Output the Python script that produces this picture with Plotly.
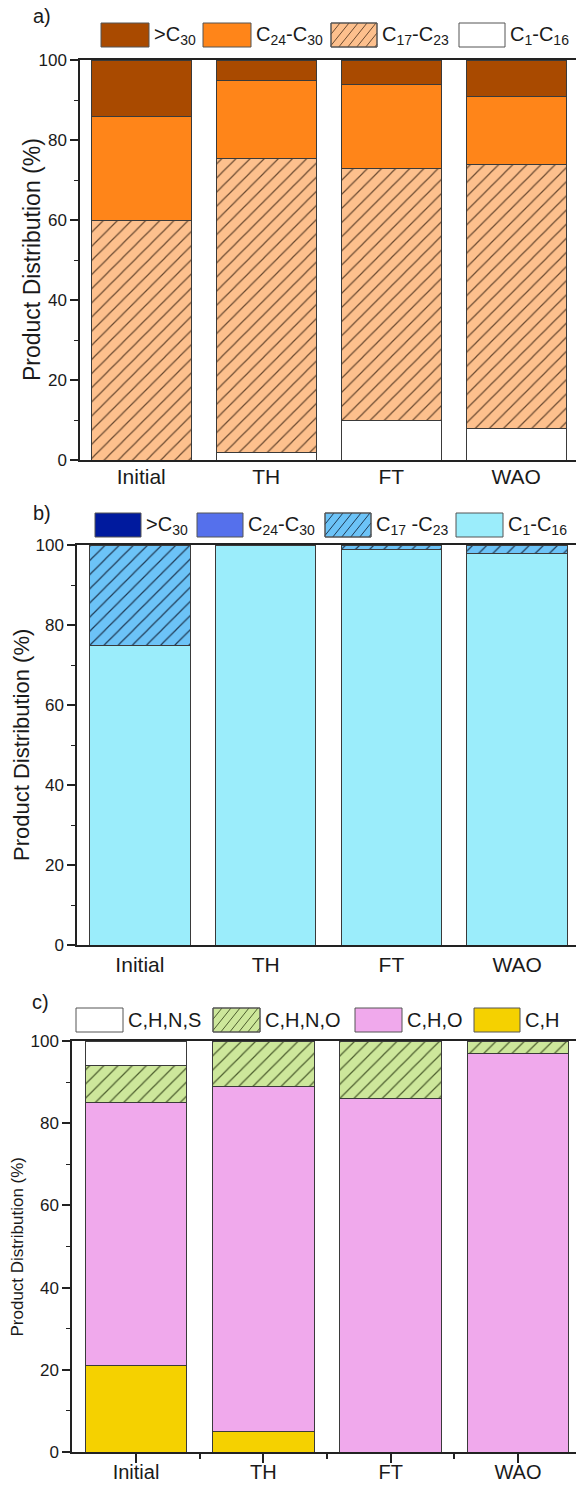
import plotly.graph_objects as go

W, H = 576, 1485
FONT = "Liberation Sans, Arial, sans-serif"

categories = ["Initial", "TH", "FT", "WAO"]

# Panel a) values (%), stacked bottom -> top
a_c1_c16 = [0, 2, 10, 8]
a_c17_c23 = [60, 73.3, 63, 66]
a_c24_c30 = [26, 19.7, 21, 17]
a_gt_c30 = [14, 5, 6, 9]

# Panel b) values (%)
b_c1_c16 = [75, 100, 99, 98]
b_c17_c23 = [25, 0, 1, 2]
b_c24_c30 = [0, 0, 0, 0]
b_gt_c30 = [0, 0, 0, 0]

# Panel c) values (%)
c_ch = [21, 5, 0, 0]
c_cho = [64, 84, 86, 97]
c_chno = [9, 11, 14, 3]
c_chns = [6, 0, 0, 0]

a_names = [">C<sub>30</sub>", "C<sub>24</sub>-C<sub>30</sub>", "C<sub>17</sub>-C<sub>23</sub>", "C<sub>1</sub>-C<sub>16</sub>"]
b_names = [">C<sub>30</sub>", "C<sub>24</sub>-C<sub>30</sub>", "C<sub>17</sub> -C<sub>23</sub>", "C<sub>1</sub>-C<sub>16</sub>"]
c_names = ["C,H,N,S", "C,H,N,O", "C,H,O", "C,H"]
y_title = "Product Distribution (%)"
panel_tags = ["a)", "b)", "c)"]

# ---- styles ----
OUT = "#3a3a3a"
a_style = [  # same order as a_names (legend order)
    dict(color="#A94A00"), dict(color="#FF8519"),
    dict(color="#FDC08D", hatch="#6b4a30"), dict(color="#FFFFFF")]
b_style = [
    dict(color="#001A9E"), dict(color="#5570EC"),
    dict(color="#6CC3F7", hatch="#1f3a55"), dict(color="#9BEDFB")]
c_style = [
    dict(color="#FFFFFF"), dict(color="#CDE79B", hatch="#4d5e2e"),
    dict(color="#F0A9EC"), dict(color="#F5D100")]

# panel geometry (pixels)
panels = [
    dict(left=80, top=60, bottom=460, xr=[-0.49, 3.478], tick_sz=17, xt_sz=21, title_x=32, title_sz=23,
         xticks=False, standoff=-3, tag=(42, 16), leg_y=(23, 47),
         leg_boxes=[(101, 149), (203, 251), (331, 377), (459, 505)]),
    dict(left=77, top=545, bottom=945, xr=[-0.5, 3.468], tick_sz=17, xt_sz=21, title_x=21, title_sz=22,
         xticks=False, standoff=0, tag=(42, 513), leg_y=(513, 537),
         leg_boxes=[(95, 141), (197, 243), (325, 371), (456, 503)]),
    dict(left=72, top=1041, bottom=1452, xr=[-0.503, 3.456], tick_sz=17, xt_sz=20, title_x=17, title_sz=17,
         xticks=True, standoff=-8, tag=(40, 1002), leg_y=(1008, 1032),
         leg_boxes=[(76, 123), (213, 260), (355, 402), (474, 520)]),
]

def px(x):
    return x / W

def py(y):
    return 1 - y / H

xpos = list(range(len(categories)))

fig = go.Figure()

def add_bar(vals, name, style, idx):
    marker = dict(color=style["color"], line=dict(color=OUT, width=1))
    if "hatch" in style:
        marker["pattern"] = dict(shape="/", fgcolor=style["hatch"], bgcolor=style["color"],
                                 size=10, solidity=0.12, fillmode="replace")
    sfx = "" if idx == 1 else str(idx)
    fig.add_trace(go.Bar(x=xpos, y=vals, name=name, marker=marker, width=0.8,
                         xaxis="x" + sfx, yaxis="y" + sfx, showlegend=False))

# stacked bottom -> top
add_bar(a_c1_c16, a_names[3], a_style[3], 1)
add_bar(a_c17_c23, a_names[2], a_style[2], 1)
add_bar(a_c24_c30, a_names[1], a_style[1], 1)
add_bar(a_gt_c30, a_names[0], a_style[0], 1)

add_bar(b_c1_c16, b_names[3], b_style[3], 2)
add_bar(b_c17_c23, b_names[2], b_style[2], 2)
add_bar(b_c24_c30, b_names[1], b_style[1], 2)
add_bar(b_gt_c30, b_names[0], b_style[0], 2)

add_bar(c_ch, c_names[3], c_style[3], 3)
add_bar(c_cho, c_names[2], c_style[2], 3)
add_bar(c_chno, c_names[1], c_style[1], 3)
add_bar(c_chns, c_names[0], c_style[0], 3)

layout = dict(width=W, height=H, margin=dict(l=0, r=0, t=0, b=0, pad=0), autosize=False,
              barmode="stack", paper_bgcolor="white", plot_bgcolor="white",
              font=dict(family=FONT, color="#1a1a1a"), bargap=0.2, showlegend=False)

shapes = []
annotations = []

def hatch_paths(x0, x1, yt, yb, step=9, slope=1.25):
    segs = []
    k = x0 - (yb - yt) / slope
    while k < x1:
        t_lo = max(x0 - k, 0)
        t_hi = min(x1 - k, (yb - yt) / slope)
        if t_hi > t_lo:
            xa, ya = k + t_lo, yb - t_lo * slope
            xb, yb2 = k + t_hi, yb - t_hi * slope
            segs.append(f"M{px(xa):.5f},{py(ya):.5f} L{px(xb):.5f},{py(yb2):.5f}")
        k += step
    return " ".join(segs)

styles = [a_style, b_style, c_style]
names = [a_names, b_names, c_names]

for i, p in enumerate(panels):
    sfx = "" if i == 0 else str(i + 1)
    ydom = [py(p["bottom"]), py(p["top"])]
    xdom = [px(p["left"]), 1.0]
    xa = dict(domain=xdom, range=p["xr"], anchor="y" + sfx, tickmode="array", tickvals=xpos,
              ticktext=categories, showline=True, linecolor="#222", linewidth=1.5, mirror=True,
              showgrid=False, zeroline=False, automargin=False, ticklabelstandoff=p["standoff"],
              tickfont=dict(size=p["xt_sz"], family=FONT, color="#1a1a1a"))
    if p["xticks"]:
        xa.update(ticks="outside", ticklen=9, tickwidth=1.5, tickcolor="#222",
                  minor=dict(tickmode="array", tickvals=[0.5, 1.5, 2.5], ticks="outside",
                             ticklen=5, tickwidth=1.5, tickcolor="#222"))
    else:
        xa.update(ticks="")
    ya = dict(domain=ydom, range=[0, 100], anchor="x" + sfx, tickmode="array",
              tickvals=[0, 20, 40, 60, 80, 100], ticks="outside", ticklen=8, tickwidth=1.5,
              tickcolor="#222", showline=True, linecolor="#222", linewidth=1.5, mirror=False,
              showgrid=False, zeroline=False, automargin=False,
              minor=dict(tickmode="array", tickvals=[10, 30, 50, 70, 90], ticks="outside",
                         ticklen=4, tickwidth=1.2, tickcolor="#222"),
              tickfont=dict(size=p["tick_sz"], family=FONT, color="#1a1a1a"))
    layout["xaxis" + sfx] = xa
    layout["yaxis" + sfx] = ya

    # y title
    annotations.append(dict(text=y_title, x=px(p["title_x"]), y=py((p["top"] + p["bottom"]) / 2),
                            xref="paper", yref="paper", textangle=-90, showarrow=False,
                            xanchor="center", yanchor="middle",
                            font=dict(size=p["title_sz"], family=FONT, color="#1a1a1a")))
    # panel tag
    annotations.append(dict(text=panel_tags[i], x=px(p["tag"][0]), y=py(p["tag"][1]),
                            xref="paper", yref="paper", showarrow=False,
                            xanchor="center", yanchor="middle",
                            font=dict(size=20, family=FONT, color="#1a1a1a")))
    # legend
    yt, yb = p["leg_y"]
    for j, (bx0, bx1) in enumerate(p["leg_boxes"]):
        st = styles[i][j]
        shapes.append(dict(type="rect", xref="paper", yref="paper",
                           x0=px(bx0), x1=px(bx1), y0=py(yb), y1=py(yt),
                           fillcolor=st["color"], line=dict(color="#555", width=1)))
        if "hatch" in st:
            shapes.append(dict(type="path", xref="paper", yref="paper",
                               path=hatch_paths(bx0, bx1, yt, yb),
                               line=dict(color=st["hatch"], width=1)))
            shapes.append(dict(type="rect", xref="paper", yref="paper",
                               x0=px(bx0), x1=px(bx1), y0=py(yb), y1=py(yt),
                               fillcolor="rgba(0,0,0,0)", line=dict(color="#555", width=1)))
        annotations.append(dict(text=names[i][j], x=px(bx1 + 3), y=py((yt + yb) / 2),
                                xref="paper", yref="paper", showarrow=False,
                                xanchor="left", yanchor="middle",
                                font=dict(size=20, family=FONT, color="#1a1a1a")))

layout["shapes"] = shapes
layout["annotations"] = annotations
fig.update_layout(**layout)

fig.write_html("out.html", config={"displayModeBar": False},
               post_script="document.body.style.margin='0';")
